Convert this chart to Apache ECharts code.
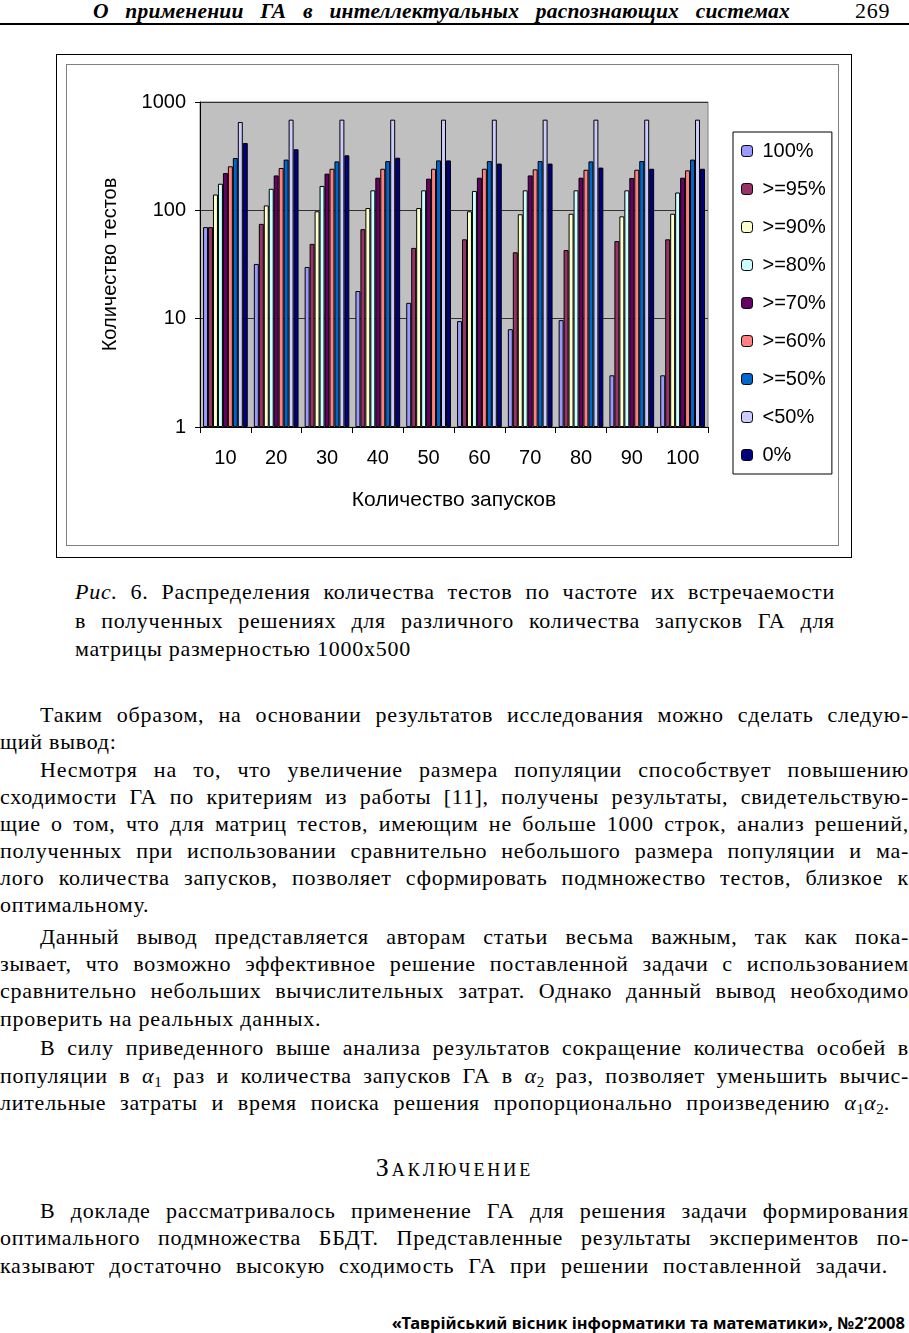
<!DOCTYPE html>
<html><head><meta charset="utf-8">
<script src="https://cdn.jsdelivr.net/npm/echarts@6/dist/echarts.min.js"></script>
<style>
html,body{margin:0;padding:0;background:#fff;}
body{width:909px;height:1333px;position:relative;overflow:hidden;font-family:"Liberation Serif",serif;color:#000;}
.ln{position:absolute;line-height:28px;height:28px;font-size:22px;letter-spacing:0.75px;white-space:normal;}
.j{text-align:justify;text-align-last:justify;}
.b{left:0;width:909px;}
.in{left:40px;width:869px;}
sub{font-size:15px;line-height:0;vertical-align:-4px;letter-spacing:0;}
#outer{position:absolute;left:56px;top:54px;width:794px;height:502px;border:1px solid #000;}
#chart{position:absolute;left:66px;top:64px;width:771px;height:480px;border:1px solid #808080;}
</style>
</head><body>
<div class="ln j" style="left:93px;width:697px;top:-3px;font-weight:bold;font-style:italic;font-size:21.5px;letter-spacing:0.2px;">О применении ГА в интеллектуальных распознающих системах</div>
<div class="ln" style="left:855px;top:-3px;">269</div>
<div style="position:absolute;left:0;top:23px;width:909px;height:2px;background:#000;"></div>

<div id="outer"></div>
<div id="chart"></div>

<div class="ln j" style="left:75px;width:760px;top:578px;"><i>Рис.</i> 6. Распределения количества тестов по частоте их встречаемости</div>
<div class="ln j" style="left:75px;width:760px;top:607px;">в полученных решениях для различного количества запусков ГА для</div>
<div class="ln" style="left:75px;top:635px;">матрицы размерностью 1000x500</div>

<div class="ln j in" style="top:701px;">Таким образом, на основании результатов исследования можно сделать следую-</div>
<div class="ln b" style="top:728px;">щий вывод:</div>
<div class="ln j in" style="top:756px;">Несмотря на то, что увеличение размера популяции способствует повышению</div>
<div class="ln j b" style="top:783px;">сходимости ГА по критериям из работы [11], получены результаты, свидетельствую-</div>
<div class="ln j b" style="top:810px;">щие о том, что для матриц тестов, имеющим не больше 1000 строк, анализ решений,</div>
<div class="ln j b" style="top:837px;">полученных при использовании сравнительно небольшого размера популяции и ма-</div>
<div class="ln j b" style="top:864px;">лого количества запусков, позволяет сформировать подмножество тестов, близкое к</div>
<div class="ln b" style="top:891px;">оптимальному.</div>
<div class="ln j in" style="top:923px;">Данный вывод представляется авторам статьи весьма важным, так как пока-</div>
<div class="ln j b" style="top:950px;">зывает, что возможно эффективное решение поставленной задачи с использованием</div>
<div class="ln j b" style="top:977px;">сравнительно небольших вычислительных затрат. Однако данный вывод необходимо</div>
<div class="ln b" style="top:1005px;">проверить на реальных данных.</div>
<div class="ln j in" style="top:1034px;">В силу приведенного выше анализа результатов сокращение количества особей в</div>
<div class="ln j b" style="top:1062px;">популяции в <i>α</i><sub>1</sub> раз и количества запусков ГА в <i>α</i><sub>2</sub> раз, позволяет уменьшить вычис-</div>
<div class="ln j" style="left:0;width:890px;top:1089px;">лительные затраты и время поиска решения пропорционально произведению <i>α</i><sub>1</sub><i>α</i><sub>2</sub>.</div>

<div class="ln" style="left:0;width:909px;top:1154px;text-align:center;font-variant:small-caps;font-size:26px;letter-spacing:3px;">Заключение</div>

<div class="ln j in" style="top:1197px;">В докладе рассматривалось применение ГА для решения задачи формирования</div>
<div class="ln j b" style="top:1224px;">оптимального подмножества ББДТ. Представленные результаты экспериментов по-</div>
<div class="ln j" style="left:0;width:888px;top:1252px;">казывают достаточно высокую сходимость ГА при решении поставленной задачи.</div>

<div style="position:absolute;right:4px;top:1312px;font-family:'Noto Sans',sans-serif;font-weight:bold;font-size:16.5px;line-height:22px;white-space:nowrap;">«Таврійський вісник інформатики та математики», №2’2008</div>

<script>
// ---- data ----
const categories = ['10', '20', '30', '40', '50', '60', '70', '80', '90', '100'];
const seriesNames = ['100%', '>=95%', '>=90%', '>=80%', '>=70%', '>=60%', '>=50%', '<50%', '0%'];
const v100  = [70, 32, 30, 18, 14, 9.5, 8, 9.7, 3, 3];
const v95   = [70, 75, 49, 67, 45, 54, 41, 43, 52, 54];
const v90   = [140, 111, 98, 105, 105, 98, 92, 93, 88, 93];
const v80   = [176, 158, 168, 153, 153, 151, 153, 153, 153, 146];
const v70   = [221, 210, 218, 200, 196, 200, 210, 200, 199, 200];
const v60   = [255, 246, 242, 242, 242, 242, 239, 237, 237, 234];
const v50   = [304, 294, 283, 285, 289, 285, 285, 283, 285, 294];
const vLt50 = [654, 687, 687, 687, 687, 687, 687, 687, 687, 687];
const v0    = [418, 366, 322, 306, 289, 270, 270, 248, 242, 242];
const yTickValues = [1, 10, 100, 1000];

const seriesValues = [v100, v95, v90, v80, v70, v60, v50, vLt50, v0];
const colors = ['#9999FF', '#993366', '#FFFFCC', '#CCFFFF', '#660066', '#FF8080', '#0066CC', '#CCCCFF', '#000080'];

const chart = echarts.init(document.getElementById('chart'), null, {renderer: 'canvas'});
const font = 'Liberation Sans';
chart.setOption({
  animation: false,
  backgroundColor: '#fff',
  textStyle: {fontFamily: font},
  grid: {left: 133, top: 37, width: 508, height: 325, show: true, backgroundColor: '#c0c0c0', borderColor: '#808080', borderWidth: 1},
  legend: {
    orient: 'vertical', left: 666, top: 67,
    itemWidth: 11, itemHeight: 11, itemGap: 18,
    padding: [9, 6, 9, 8],
    borderColor: '#000', borderWidth: 1, backgroundColor: '#fff',
    selectedMode: false,
    textStyle: {fontSize: 20, color: '#000', lineHeight: 20, padding: [0, 0, 0, 5], fontFamily: font},
    itemStyle: {borderColor: '#000', borderWidth: 1},
    data: seriesNames
  },
  xAxis: {
    type: 'category', data: categories,
    axisLine: {lineStyle: {color: '#000', width: 1}},
    axisTick: {show: true, length: 6, lineStyle: {color: '#000'}},
    axisLabel: {fontSize: 20, color: '#000', margin: 21, fontFamily: font},
    name: 'Количество запусков', nameLocation: 'middle', nameGap: 63,
    nameTextStyle: {fontSize: 21, color: '#000', fontFamily: font}
  },
  yAxis: {
    type: 'log', logBase: 10, min: yTickValues[0], max: yTickValues[yTickValues.length - 1],
    axisLine: {show: true, lineStyle: {color: '#000', width: 1}},
    axisTick: {show: true, length: 5, lineStyle: {color: '#000'}},
    axisLabel: {fontSize: 20, color: '#000', margin: 14, fontFamily: font, formatter: v => String(Math.round(v))},
    splitLine: {show: true, lineStyle: {color: '#333', width: 1}},
    minorTick: {show: false},
    name: 'Количество тестов', nameLocation: 'middle', nameGap: 80, nameRotate: 90,
    nameTextStyle: {fontSize: 20, color: '#000', fontFamily: font}
  },
  series: seriesNames.map((n, i) => ({
    name: n, type: 'bar', data: seriesValues[i],
    barGap: '0%', barCategoryGap: '12%',
    itemStyle: {color: colors[i], borderColor: '#000', borderWidth: 1},
    emphasis: {disabled: true}
  }))
});
</script>
</body></html>
